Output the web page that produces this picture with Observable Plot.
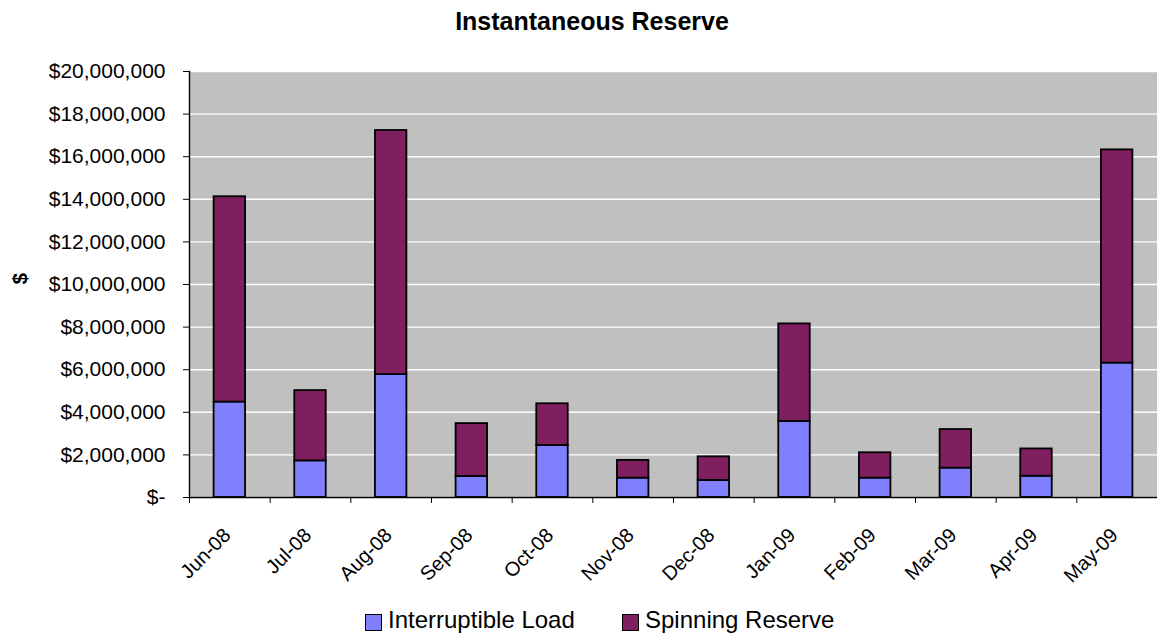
<!DOCTYPE html>
<html>
<head>
<meta charset="utf-8">
<script src="https://cdn.jsdelivr.net/npm/d3@7"></script>
<script src="https://cdn.jsdelivr.net/npm/@observablehq/plot@0.6"></script>
<style>
  html, body { margin: 0; padding: 0; background: #fff; }
  #chart { position: relative; width: 1157px; height: 635px; font-family: "Liberation Sans", Arial, sans-serif; }
  #title { height: 42px; box-sizing: border-box; padding-top: 9px; padding-left: 27px; text-align: center;
           font-size: 25px; font-weight: bold; line-height: 25px; color: #000; }
  #legend { position: relative; height: 37px; }
  .item { position: absolute; top: 0; height: 37px; }
  .swatch { position: absolute; top: 16px; width: 15px; height: 15px; border: 1px solid #000; }
  .label { position: absolute; top: 9px; left: 23px; white-space: nowrap; font-size: 24px; line-height: 25px; color: #000; }
  svg { display: block; }
</style>
</head>
<body>
<div id="chart">
  <div id="title">Instantaneous Reserve</div>
  <div id="plot"></div>
  <div id="legend"></div>
</div>
<script>
// Monthly cost of instantaneous reserve, by component (US dollars)
const months = ["Jun-08", "Jul-08", "Aug-08", "Sep-08", "Oct-08", "Nov-08",
                "Dec-08", "Jan-09", "Feb-09", "Mar-09", "Apr-09", "May-09"];
const interruptibleLoad = [4480000, 1720000, 5770000, 990000, 2440000, 910000,
                           800000, 3570000, 910000, 1380000, 1000000, 6310000];
const spinningReserve = [9640000, 3300000, 11460000, 2480000, 1960000, 830000,
                         1110000, 4580000, 1190000, 1810000, 1280000, 10010000];
const seriesNames = ["Interruptible Load", "Spinning Reserve"];
const seriesColors = ["#8080FF", "#7F1F5F"];
const yTicks = d3.range(0, 20000001, 2000000);

// long-format table for the stacked bars
const rows = [];
months.forEach((m, i) => {
  rows.push({month: m, series: seriesNames[0], value: interruptibleLoad[i]});
  rows.push({month: m, series: seriesNames[1], value: spinningReserve[i]});
});

const width = 1157, marginLeft = 189, marginRight = 0;
const step = (width - marginLeft - marginRight) / months.length;
const money = d => d === 0 ? "$-" : "$" + d3.format(",")(d);

const chart = Plot.plot({
  width,
  height: 556,
  marginTop: 29,
  marginBottom: 101,
  marginLeft,
  marginRight,
  style: {fontFamily: "'Liberation Sans', Arial, sans-serif", fontSize: "21px", color: "#000", background: "#fff", overflow: "visible"},
  x: {domain: months, paddingInner: 0.61, paddingOuter: 0.305, round: false, axis: null},
  y: {domain: [0, 20000000], axis: null},
  color: {domain: seriesNames, range: seriesColors},
  marks: [
    Plot.frame({fill: "#C0C0C0", stroke: "#8a8a8a"}),
    Plot.gridY(yTicks, {stroke: "#fff", strokeOpacity: 1, strokeWidth: 1.4}),
    Plot.barY(rows, {x: "month", y: "value", fill: "series", stroke: "#000", strokeWidth: 1.8}),
    Plot.frame({anchor: "left", stroke: "#000", strokeWidth: 1.4}),
    Plot.ruleY([0], {stroke: "#000", strokeWidth: 1.4}),
    Plot.axisY(yTicks, {tickSize: 6, tickPadding: 18, tickFormat: money, label: null, stroke: "#000"}),
    Plot.axisX(months, {tickSize: 6, tickFormat: () => "", label: null, dx: -step / 2, stroke: "#000"}),
    Plot.text(months, {x: d => d, frameAnchor: "bottom", dx: 2, dy: 39, rotate: -45, textAnchor: "end", lineAnchor: "bottom", fontSize: 20, fill: "#000"}),
    Plot.text(["$"], {frameAnchor: "left", dx: -169, rotate: -90, fontWeight: "bold", fill: "#000"})
  ]
});
document.getElementById("plot").appendChild(chart);

// legend below the plot
const legendPos = [365, 622];
const legend = document.getElementById("legend");
seriesNames.forEach((name, i) => {
  const item = document.createElement("div");
  item.className = "item";
  item.style.left = legendPos[i] + "px";
  const sw = document.createElement("div");
  sw.className = "swatch";
  sw.style.background = seriesColors[i];
  const lb = document.createElement("div");
  lb.className = "label";
  lb.textContent = name;
  item.appendChild(sw);
  item.appendChild(lb);
  legend.appendChild(item);
});
</script>
</body>
</html>
